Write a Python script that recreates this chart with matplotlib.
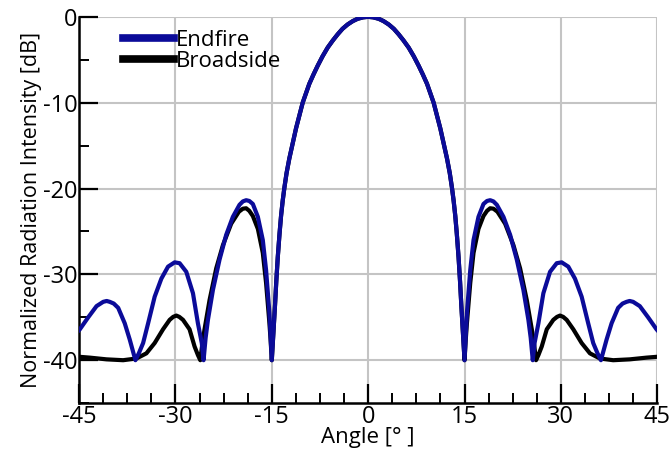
import numpy as np
import matplotlib
matplotlib.use('Agg')
import matplotlib.pyplot as plt
from matplotlib.ticker import MultipleLocator

# values, 0..45 deg (pattern is symmetric)
endfire_ang = [0, 0.8, 1.65, 2.4, 3.2, 4.0, 4.75, 5.5, 6.3, 7.1, 7.86, 8.5, 9.16, 10.19,
               11.23, 12.27, 12.7, 13.04, 13.3, 13.56, 13.8, 14.07, 14.3, 14.5, 14.75, 15.0,
               15.2, 15.37, 15.89, 16.4, 17.17, 17.95, 18.5, 18.99, 19.5, 20.03,
               21.06, 22.1, 23.14, 24.16, 24.94, 25.3, 25.62,
               25.9, 26.5, 27.27, 28.31, 29.35, 30.12, 31.15, 32.19, 33.23, 34.25,
               35.03, 35.7, 36.23,
               36.6, 37.11, 37.89, 38.91, 39.6, 40.22, 40.7, 41.24, 42.28, 43.57, 44.88, 45.0]
endfire_db = [0, -0.06, -0.23, -0.5, -0.89, -1.4, -2.04, -2.75, -3.58, -4.6, -5.7, -6.7,
              -7.8, -10.0, -13.0, -16.5, -18.2, -19.9, -21.4, -23.2, -25.3, -28.0, -30.8,
              -33.6, -36.8, -40,
              -37.0, -34.5, -29.5, -26.0, -23.3, -21.8, -21.45, -21.36, -21.5, -21.9,
              -23.3, -25.4, -28.3, -31.8, -35.3, -37.4, -40,
              -38.0, -35.7, -32.2, -29.7, -28.7, -28.6, -29.1, -30.5, -32.6, -35.7,
              -38.0, -39.2, -40,
              -39.0, -37.6, -35.7, -33.9, -33.4, -33.2, -33.1, -33.2, -33.7, -35.0, -36.4, -36.5]

broadside_ang = [0, 0.8, 1.65, 2.4, 3.2, 4.0, 4.75, 5.5, 6.3, 7.1, 7.86, 8.5, 9.16, 10.19,
                 11.23, 12.27, 12.7, 13.04, 13.3, 13.56, 13.8, 14.07, 14.3, 14.5, 14.75, 15.0,
                 15.2, 15.37, 15.89, 16.4, 17.17, 17.95, 18.5, 18.99, 19.5, 20.12,
                 21.32, 22.61, 23.65, 24.69, 25.47, 25.8, 26.13,
                 26.5, 27.02, 27.8, 28.82, 29.4, 29.86, 30.35, 30.9, 31.93, 33.23,
                 34.52, 36.07, 38.14, 40.73, 43.32, 45.0]
broadside_db = [0, -0.06, -0.23, -0.5, -0.89, -1.4, -2.04, -2.75, -3.58, -4.6, -5.7, -6.7,
                -7.8, -10.0, -13.0, -16.5, -18.2, -19.9, -21.4, -23.2, -25.3, -28.0, -30.8,
                -33.6, -36.8, -40,
                -37.5, -35.7, -31.0, -27.5, -24.7, -23.2, -22.6, -22.3, -22.35, -22.7,
                -24.1, -26.6, -29.3, -33.0, -36.4, -38.0, -40,
                -39.4, -38.4, -36.4, -35.3, -34.95, -34.8, -34.95, -35.3, -36.4, -38.0,
                -39.2, -39.8, -40.0, -39.9, -39.7, -39.6]

xticks = [-45, -30, -15, 0, 15, 30, 45]
xtick_labels = ['-45', '-30', '-15', '0', '15', '30', '45']
yticks = [0, -10, -20, -30, -40]
ytick_labels = ['0', '-10', '-20', '-30', '-40']


def mirror(ang, val):
    ang = np.array(ang)
    val = np.array(val)
    return np.concatenate((-ang[::-1], ang[1:])), np.concatenate((val[::-1], val[1:]))


def main():
    plt.rcParams['font.family'] = ['Open Sans', 'DejaVu Sans']
    plt.rcParams['axes.unicode_minus'] = False

    fig = plt.figure(figsize=(6.7, 4.55), dpi=100)
    ax = fig.add_axes([0.118, 0.114, 0.863, 0.849])

    x_b, y_b = mirror(broadside_ang, broadside_db)
    x_e, y_e = mirror(endfire_ang, endfire_db)
    ax.plot(x_b, y_b, color='black', lw=3, label='Broadside', zorder=3,
            solid_joinstyle='round')
    ax.plot(x_e, y_e, color='#0b0b99', lw=3, label='Endfire', zorder=4,
            solid_joinstyle='round')

    ax.set_xlim(-45, 45)
    ax.set_ylim(-45, 0)
    ax.set_xticks(xticks, xtick_labels)
    ax.set_yticks(yticks, ytick_labels)
    ax.xaxis.set_minor_locator(MultipleLocator(3.75))
    ax.yaxis.set_minor_locator(MultipleLocator(5))
    ax.tick_params(which='major', direction='in', length=14, width=1.6, labelsize=17, pad=1)
    ax.tick_params(which='minor', direction='in', length=7, width=1.4)
    ax.grid(True, which='major', color='#c4c4c4', lw=1.5, zorder=0)
    ax.set_axisbelow(True)

    for s in ['top', 'right']:
        ax.spines[s].set_visible(False)
    for s in ['left', 'bottom']:
        ax.spines[s].set_linewidth(1.8)

    ax.set_xlabel('Angle [° ]', fontsize=16, labelpad=-1)
    ax.set_ylabel('Normalized Radiation Intensity [dB]', fontsize=15.5, labelpad=1)

    h, l = ax.get_legend_handles_labels()
    leg = ax.legend(h[::-1], l[::-1], loc='upper left', bbox_to_anchor=(0.06, 0.99),
                    frameon=False, fontsize=16, handlelength=2.3, handletextpad=0.1,
                    labelspacing=0.02, borderaxespad=0)
    for line in leg.get_lines():
        line.set_linewidth(5.5)

    fig.savefig('out.png', dpi=100)


if __name__ == "__main__":
    main()
